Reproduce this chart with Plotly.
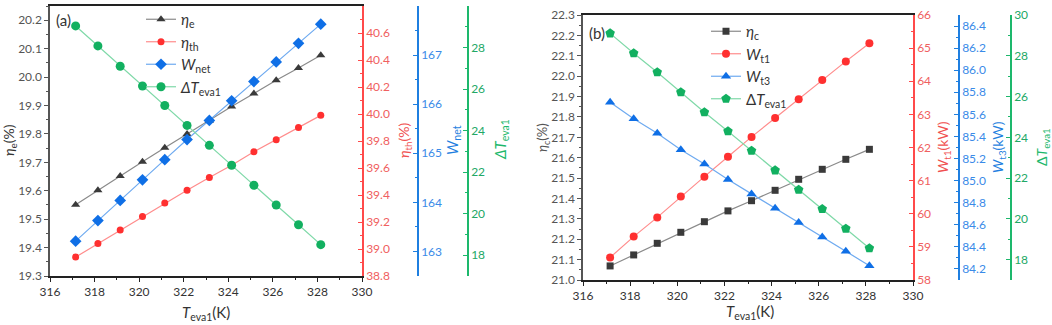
import plotly.graph_objects as go

# ---------------- data ----------------
T_eva1 = [317.15, 318.15, 319.15, 320.15, 321.15, 322.15, 323.15, 324.15, 325.15, 326.15, 327.15, 328.15]

# panel (a)
eta_e = [19.551, 19.602, 19.652, 19.702, 19.751, 19.800, 19.846, 19.896, 19.942, 19.989, 20.032, 20.077]
eta_th = [38.94, 39.04, 39.14, 39.24, 39.34, 39.435, 39.53, 39.62, 39.72, 39.81, 39.90, 39.99]
W_net = [163.21, 163.63, 164.04, 164.46, 164.87, 165.28, 165.67, 166.07, 166.46, 166.86, 167.24, 167.63]
dT_a = [29.04, 28.08, 27.10, 26.15, 25.21, 24.25, 23.29, 22.33, 21.37, 20.42, 19.47, 18.51]

# panel (b)
eta_c = [21.069, 21.123, 21.180, 21.234, 21.286, 21.339, 21.389, 21.440, 21.494, 21.543, 21.592, 21.641]
W_t1 = [58.68, 59.31, 59.89, 60.52, 61.12, 61.72, 62.32, 62.89, 63.46, 64.04, 64.60, 65.15]
W_t3 = [85.71, 85.56, 85.43, 85.28, 85.15, 85.01, 84.88, 84.75, 84.62, 84.49, 84.36, 84.23]
dT_b = [29.10, 28.12, 27.19, 26.21, 25.23, 24.30, 23.34, 22.38, 21.43, 20.48, 19.52, 18.56]

W, H = 1052, 325
FONT = "Lato, 'Liberation Sans', sans-serif"

BLK_M, BLK_L = "#3a3a3a", "#8a8a8a"
RED_M, RED_L, RED_AX = "#ff3030", "#ff8c8c", "#ff4a4a"
BLU_M, BLU_L, BLU_AX = "#0f6fe6", "#6eaaf0", "#1f7fe0"
GRN_M, GRN_L, GRN_AX = "#12b060", "#7fd9a8", "#1db86c"
TXT = "#333333"

def px(x):
    return x / W

def py(y):
    return 1 - y / H

fig = go.Figure()

def add(x, y, name, xa, ya, leg, mcol, lcol, sym, size):
    fig.add_trace(go.Scatter(
        x=x, y=y, name=name, xaxis=xa, yaxis=ya, legend=leg,
        mode="lines+markers",
        line=dict(color=lcol, width=1.2),
        marker=dict(color=mcol, symbol=sym, size=size, line=dict(width=0)),
    ))

add(T_eva1, eta_e, "<i>η</i><sub>e</sub>", "x", "y", "legend", BLK_M, BLK_L, "triangle-up", 8)
add(T_eva1, eta_th, "<i>η</i><sub>th</sub>", "x", "y2", "legend", RED_M, RED_L, "circle", 7)
add(T_eva1, W_net, "<i>W</i><sub>net</sub>", "x", "y3", "legend", BLU_M, BLU_L, "diamond", 9)
add(T_eva1, dT_a, "<i>ΔT</i><sub>eva1</sub>", "x", "y4", "legend", GRN_M, GRN_L, "circle", 9)

add(T_eva1, eta_c, "<i>η</i><sub>c</sub>", "x2", "y5", "legend2", BLK_M, BLK_L, "square", 7)
add(T_eva1, W_t1, "<i>W</i><sub>t1</sub>", "x2", "y6", "legend2", RED_M, RED_L, "circle", 8)
add(T_eva1, W_t3, "<i>W</i><sub>t3</sub>", "x2", "y7", "legend2", BLU_M, BLU_L, "triangle-up", 9)
add(T_eva1, dT_b, "Δ<i>T</i><sub>eva1</sub>", "x2", "y8", "legend2", GRN_M, GRN_L, "pentagon", 10)

# domains
XA = [px(50), px(362)]
YA = [py(276), py(6)]
XB = [px(583), px(913)]
YB = [py(280), py(15)]

tickfont = dict(family=FONT, size=12)

def xaxis(domain, anchor):
    return dict(domain=domain, anchor=anchor, range=[316, 330], dtick=2, tick0=316,
                showline=True, linecolor="#222", linewidth=1.5, mirror=True,
                ticks="outside", ticklen=4, tickcolor="#222", tickwidth=1,
                minor=dict(dtick=1, ticks="outside", ticklen=2, tickcolor="#222"),
                showgrid=False, zeroline=False, tickfont=dict(tickfont, color=TXT),
                automargin=False)

def yleft(domain, anchor, rng, dtick, mdt, fmt):
    return dict(domain=domain, anchor=anchor, range=rng, dtick=dtick, tick0=rng[0], tickformat=fmt,
                showline=True, linecolor="#555", linewidth=1.5,
                ticks="outside", ticklen=4, tickcolor="#555",
                minor=dict(dtick=mdt, ticks="outside", ticklen=2, tickcolor="#555"),
                showgrid=False, zeroline=False, tickfont=dict(tickfont, color="#555"),
                automargin=False)

def yright(overlay, rng, dtick, mdt, fmt, color, tcol, anchor=None, position=None, tick0=None):
    d = dict(overlaying=overlay, side="right", range=rng, dtick=dtick,
             tick0=rng[0] if tick0 is None else tick0, tickformat=fmt,
             showline=True, linecolor=color, linewidth=1.5,
             ticks="inside", ticklen=4, tickcolor=color,
             minor=dict(dtick=mdt, ticks="inside", ticklen=2, tickcolor=color),
             showgrid=False, zeroline=False, tickfont=dict(tickfont, color=tcol),
             automargin=False)
    if position is not None:
        d["anchor"] = "free"
        d["position"] = position
    else:
        d["anchor"] = anchor
    return d

fig.update_layout(
    width=W, height=H, margin=dict(l=0, r=0, t=0, b=0, pad=0, autoexpand=False),
    paper_bgcolor="white", plot_bgcolor="white",
    font=dict(family=FONT, color=TXT),
    xaxis=xaxis(XA, "y"),
    yaxis=yleft(YA, "x", [19.3, 20.25], 0.1, 0.05, ".1f"),
    yaxis2=yright("y", [38.8, 40.8], 0.2, 0.1, ".1f", RED_AX, "#f06060", anchor="x"),
    yaxis3=yright("y", [162.5, 168], 1, 0.5, "d", BLU_AX, "#3a8ae8", position=px(418), tick0=163),
    yaxis4=yright("y", [17, 30], 2, 1, "d", GRN_AX, "#22a866", position=px(468), tick0=18),
    xaxis2=xaxis(XB, "y5"),
    yaxis5=yleft(YB, "x2", [21.0, 22.3], 0.1, 0.05, ".1f"),
    yaxis6=yright("y5", [58, 66], 1, 0.5, "d", RED_AX, "#f06060", anchor="x2"),
    yaxis7=yright("y5", [84.1, 86.5], 0.2, 0.1, ".1f", BLU_AX, "#3a8ae8", position=px(959), tick0=84.2),
    yaxis8=yright("y5", [17, 30], 2, 1, "d", GRN_AX, "#22a866", position=px(1011), tick0=18),
    legend=dict(x=px(141), y=py(3), xanchor="left", yanchor="top", bgcolor="rgba(0,0,0,0)",
                font=dict(family=FONT, size=15, color=TXT), tracegroupgap=0, itemwidth=30),
    legend2=dict(x=px(706), y=py(15), xanchor="left", yanchor="top", bgcolor="rgba(0,0,0,0)",
                 font=dict(family=FONT, size=15, color=TXT), tracegroupgap=0, itemwidth=30),
    showlegend=True,
)

ann = []
def note(x, y, text, color=TXT, size=14, angle=0):
    ann.append(dict(x=px(x), y=py(y), xref="paper", yref="paper", text=text, showarrow=False,
                    xanchor="center", yanchor="middle", textangle=angle,
                    font=dict(family=FONT, size=size, color=color)))

note(63, 20, "(a)", size=15)
note(597, 33, "(b)", size=15)
note(206, 313, "<i>T</i><sub>eva1</sub>(K)", size=15)
note(750, 312, "<i>T</i><sub>eva1</sub>(K)", size=15)
note(9, 140, "<i>η</i><sub>e</sub>(%)", size=14, angle=-90)
note(404, 140, "<i>η</i><sub>th</sub>(%)", color="#f05050", size=14, angle=-90)
note(453, 140, "<i>W</i><sub>net</sub>", color=BLU_AX, size=15, angle=-90)
note(501, 140, "<i>ΔT</i><sub>eva1</sub>", color=GRN_AX, size=15, angle=-90)
note(543, 138, "<i>η</i><sub>c</sub>(%)", color="#555", size=13, angle=-90)
note(943, 147, "<i>W</i><sub>t1</sub>(kW)", color="#f05050", size=14, angle=-90)
note(998, 147, "<i>W</i><sub>t3</sub>(kW)", color=BLU_AX, size=14, angle=-90)
note(1042, 147, "Δ<i>T</i><sub>eva1</sub>", color=GRN_AX, size=14, angle=-90)
fig.update_layout(annotations=ann)

fig.write_html("out.html", config={"displayModeBar": False},
               post_script="document.body.style.margin='0';document.body.style.padding='0';")
